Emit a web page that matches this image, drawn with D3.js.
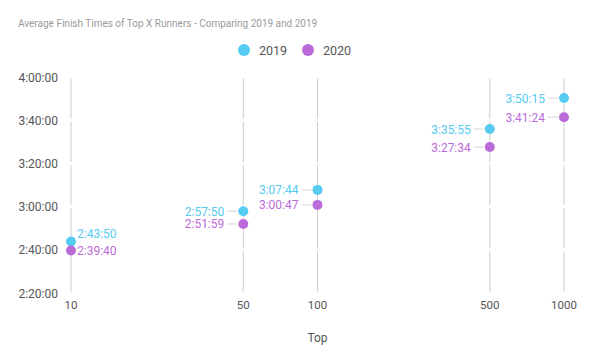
<!DOCTYPE html>
<html>
<head>
<meta charset="utf-8">
<script src="https://cdn.jsdelivr.net/npm/d3@7"></script>
<style>
body { margin: 0; background: #fff; }
text { font-family: Roboto, "Open Sans", sans-serif; }
</style>
</head>
<body>
<div id="chart"></div>
<script>
var svgWidth = 589;
var svgHeight = 364;

var topX = [10, 50, 100, 500, 1000];
var times2019 = ["2:43:50", "2:57:50", "3:07:44", "3:35:55", "3:50:15"];
var times2020 = ["2:39:40", "2:51:59", "3:00:47", "3:27:34", "3:41:24"];
var yTicks = ["2:20:00", "2:40:00", "3:00:00", "3:20:00", "3:40:00", "4:00:00"];
var seriesNames = ["2019", "2020"];
var colors = ["#56cbf2", "#bb6bd9"];

function toMin(s) {
  var p = s.split(":").map(Number);
  return p[0] * 60 + p[1] + p[2] / 60;
}

var svg = d3.select("#chart").append("svg")
  .attr("width", svgWidth)
  .attr("height", svgHeight);

var x = d3.scaleLog().domain([10, 1000]).range([71, 564]);
var y = d3.scaleLinear().domain([140, 240]).range([293, 77]);

// title
svg.append("text")
  .attr("x", 18).attr("y", 27)
  .attr("font-size", 10)
  .attr("fill", "#9a9a9a")
  .text("Average Finish Times of Top X Runners - Comparing 2019 and 2019");

// legend
var legend = svg.append("g");
seriesNames.forEach(function(name, i) {
  var lx = 244 + i * 64;
  legend.append("circle").attr("cx", lx).attr("cy", 50).attr("r", 6).attr("fill", colors[i]);
  legend.append("text").attr("x", lx + 15).attr("y", 55)
    .attr("font-size", 12.5).attr("fill", "#555").text(name);
});

// vertical grid
svg.append("g").selectAll("line")
  .data(topX).enter().append("line")
  .attr("x1", d => x(d)).attr("x2", d => x(d))
  .attr("y1", y(240)).attr("y2", y(140) - 1)
  .attr("stroke", "#ccc").attr("stroke-width", 1);

// white horizontal grid (cuts the vertical lines)
svg.append("g").selectAll("line")
  .data(yTicks).enter().append("line")
  .attr("x1", 64).attr("x2", 580)
  .attr("y1", d => y(toMin(d))).attr("y2", d => y(toMin(d)))
  .attr("stroke", "#fff").attr("stroke-width", 3);

// y axis labels
svg.append("g").selectAll("text")
  .data(yTicks).enter().append("text")
  .attr("x", 58).attr("y", d => y(toMin(d)) + 4.5)
  .attr("text-anchor", "end")
  .attr("font-size", 12).attr("fill", "#555")
  .text(d => d);

// x axis labels
svg.append("g").selectAll("text")
  .data(topX).enter().append("text")
  .attr("x", d => x(d)).attr("y", 309)
  .attr("text-anchor", "middle")
  .attr("font-size", 11.5).attr("fill", "#555")
  .text(d => d);

svg.append("text")
  .attr("x", x(100)).attr("y", 342)
  .attr("text-anchor", "middle")
  .attr("font-size", 12).attr("fill", "#555")
  .text("Top");

// points and labels
[times2019, times2020].forEach(function(series, si) {
  var g = svg.append("g");
  series.forEach(function(t, i) {
    var cx = x(topX[i]);
    var cy = y(toMin(t));
    if (i > 0) {
      g.append("line")
        .attr("x1", cx - 16).attr("x2", cx - 6)
        .attr("y1", cy).attr("y2", cy)
        .attr("stroke", "#e3e3e3").attr("stroke-width", 1.5);
      g.append("text")
        .attr("x", cx - 19).attr("y", cy + 4.5)
        .attr("text-anchor", "end")
        .attr("font-size", 12).attr("fill", colors[si])
        .text(t);
    } else {
      g.append("text")
        .attr("x", cx + 6).attr("y", si === 0 ? cy - 4 : cy + 4.5)
        .attr("font-size", 12).attr("fill", colors[si])
        .text(t);
    }
    g.append("circle")
      .attr("cx", cx).attr("cy", cy).attr("r", 5)
      .attr("fill", colors[si]);
  });
});
</script>
</body>
</html>
